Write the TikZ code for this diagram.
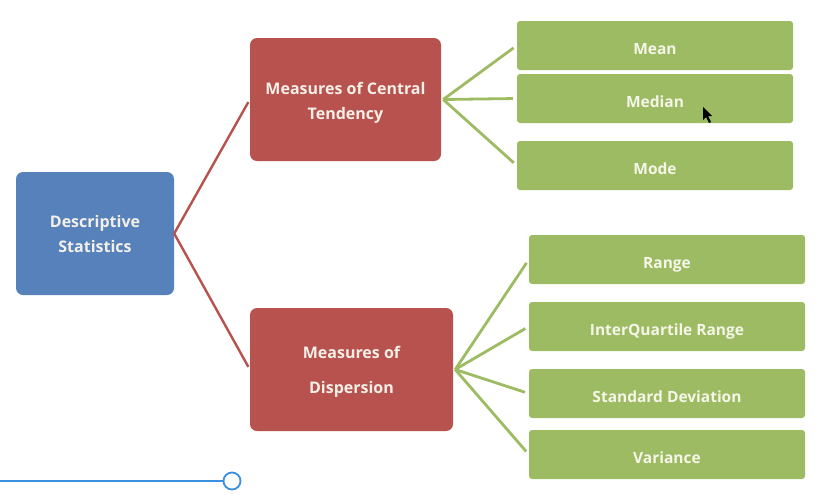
\documentclass[tikz,border=0pt]{standalone}
\usepackage{fontspec}
\setmainfont{Open Sans}
\begin{document}
\begin{tikzpicture}[x=1pt,y=-1pt,
  base/.style={rounded corners=7pt, align=center, inner sep=2pt, font=\bfseries\fontsize{16}{25}\selectfont, text=txt},
  bluebox/.style={base, fill=dsblue, minimum width=158pt, minimum height=123pt},
  redbox/.style={base, fill=dsred, minimum height=123pt},
  boxtext/.style={align=center, inner sep=0pt, font=\bfseries\fontsize{16}{25}\selectfont, text=txt},
  greenbox/.style={base, rounded corners=3pt, fill=dsgreen, minimum width=276pt, minimum height=49pt, font=\bfseries\fontsize{15.5}{18}\selectfont, text=gtxt, text height=17.5pt, text depth=0pt},
  redline/.style={draw=dsred, line width=2.4pt},
  greenline/.style={draw=dsgreen, line width=2.8pt}]
\definecolor{dsblue}{RGB}{86,129,187}
\definecolor{dsred}{RGB}{183,82,78}
\definecolor{dsgreen}{RGB}{157,187,98}
\definecolor{txt}{RGB}{244,240,232}
\definecolor{gtxt}{RGB}{245,246,232}
\definecolor{slider}{RGB}{58,144,224}
\useasboundingbox (0,0) rectangle (819,496);
\fill[white] (0,0) rectangle (819,496);

\node[bluebox] (desc) at (95,233.5) {Descriptive\\Statistics};
\node[redbox, minimum width=191pt] (mct) at (345.5,99.5) {};
\node[boxtext] (mcttext) at ([yshift=-3pt]mct.center) {Measures of Central\\Tendency};
\node[redbox, minimum width=203pt] (mdisp) at (351.5,369.5) {};
\node[boxtext, font=\bfseries\fontsize{16}{35}\selectfont] (mdtext) at ([yshift=-2pt]mdisp.center) {Measures of\\Dispersion};

\node[greenbox] (mean) at (655,45.5) {Mean};
\node[greenbox] (median) at (655,98.5) {Median};
\node[greenbox] (mode) at (655,165.5) {Mode};

\node[greenbox] (range) at (667,259.5) {Range};
\node[greenbox] (iqr) at (667,326.5) {InterQuartile Range};
\node[greenbox] (sd) at (667,393.5) {Standard Deviation};
\node[greenbox] (var) at (667,454.5) {Variance};

\draw[redline, shorten >=3pt] (desc.east) -- (mct.west);
\draw[redline, shorten >=3pt] (desc.east) -- (mdisp.west);

\coordinate (mctR) at ([xshift=2pt]mct.east);
\coordinate (mdR) at ([xshift=2pt]mdisp.east);
\foreach \t in {mean,median,mode}
  \draw[greenline, shorten >=4pt] (mctR) -- (\t.west);
\foreach \t in {range,iqr,sd,var}
  \draw[greenline, shorten >=4pt] (mdR) -- (\t.west);

% slider
\coordinate (sl0) at (0,481);
\node[circle, draw=slider, line width=1.8pt, fill=white, minimum size=17pt, inner sep=0pt] (knob) at (232,481) {};
\draw[slider, line width=1.8pt] (sl0) -- (knob.west);

% mouse cursor
\fill[black] (703,107) -- (703,120) -- (706,117) -- (709,123) -- (711,122) -- (708,116) -- (712,116) -- cycle;
\end{tikzpicture}
\end{document}
